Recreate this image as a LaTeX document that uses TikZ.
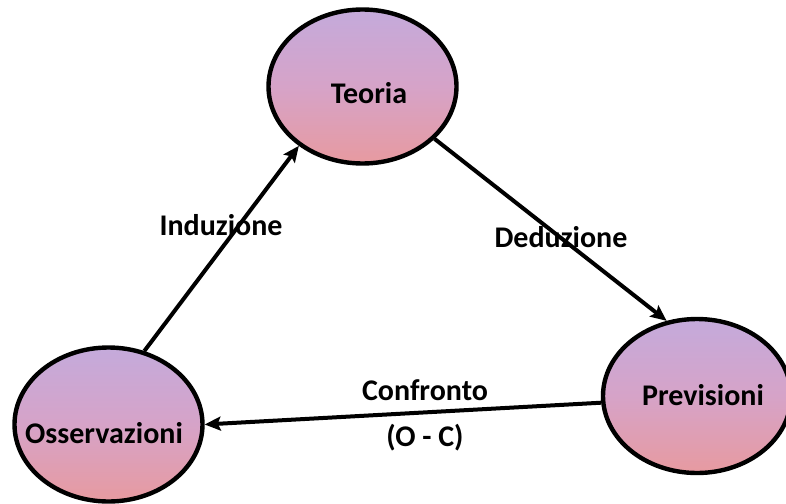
\documentclass[tikz,border=0pt]{standalone}
\usepackage{fontspec}
\setmainfont{Carlito}
\usetikzlibrary{arrows.meta,shapes.geometric}
\definecolor{topc}{RGB}{196,170,219}
\definecolor{botc}{RGB}{231,154,160}
\tikzset{
  ell/.style={ellipse, draw=black, line width=4.4pt, minimum width=188pt, minimum height=154pt, inner sep=0pt,
    top color=topc, bottom color=botc, middle color={rgb,255:red,214;green,163;blue,200}},
  lbl/.style={font=\fontsize{30}{34}\selectfont\bfseries, inner sep=0pt},
  conn/.style={line width=4pt, -{Stealth[length=16pt,width=14pt,inset=3pt]}}
}
\begin{document}
\begin{tikzpicture}[x=1pt,y=-1pt]
\useasboundingbox (0,0) rectangle (786,503);
\node[ell] (teo) at (362.5,86.5) {};
\node[ell] (obs) at (108.5,424.5) {};
\node[ell] (prev) at (697,396) {};
\node[lbl] (teot) at (369,93) {Teoria};
\node[lbl] (obst) at (104,433) {Osservazioni};
\node[lbl] (prevt) at (703,395) {Previsioni};
\draw[conn] (obs.64) -- (teo.223);
\draw[conn] (teo.-36) -- (prev.112);
\draw[conn] (prev.184) -- (obs.0);
\node[lbl] (ind) at (221,225) {Induzione};
\node[lbl] (ded) at (561,237) {Deduzione};
\node[lbl] (conf) at (425,390) {Confronto};
\node[lbl] (oc) at (425,438) {(O - C)};
\end{tikzpicture}
\end{document}
